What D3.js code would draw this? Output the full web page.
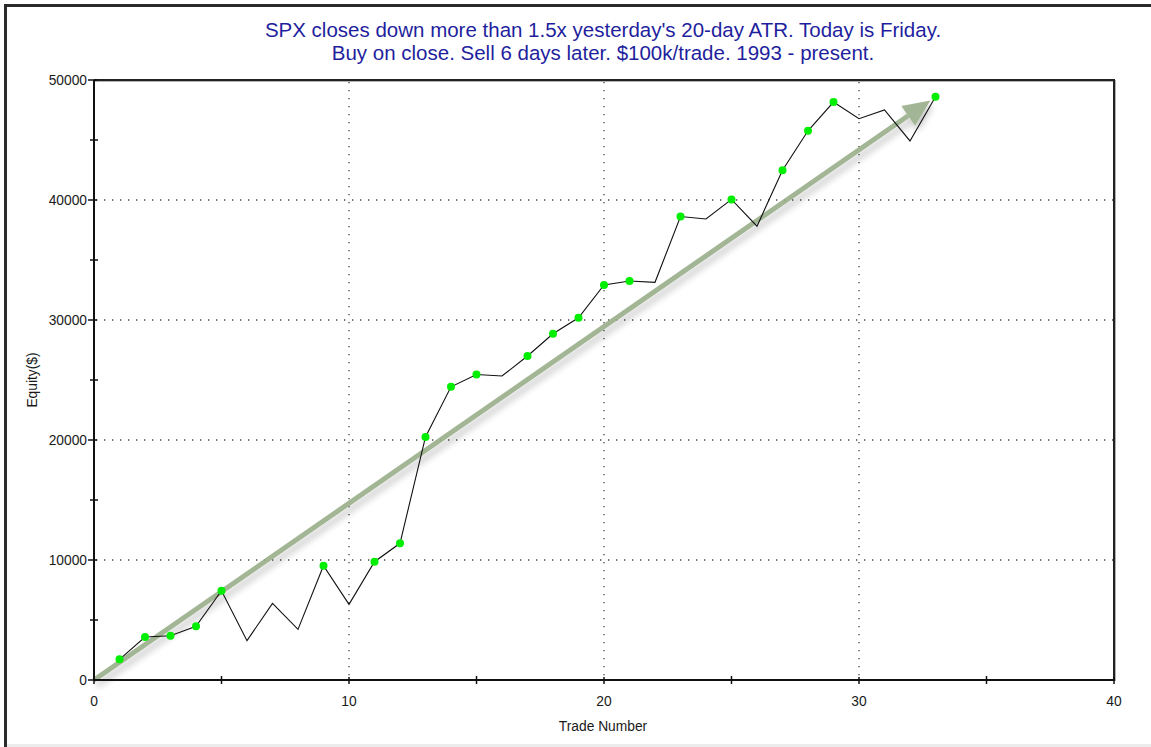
<!DOCTYPE html>
<html>
<head>
<meta charset="utf-8">
<script src="https://cdn.jsdelivr.net/npm/d3@7"></script>
<style>
  body { margin: 0; background: #fff; }
  svg { display: block; font-family: "Liberation Sans", Arial, sans-serif; }
</style>
</head>
<body>
<svg width="1151" height="747"></svg>
<script>
var width = 1151, height = 747

// equity after each trade
var trades = d3.range(1, 34)
var equity = [1720, 3580, 3690, 4470, 7440, 3280, 6390, 4220, 9520, 6300,
  9860, 11390, 20260, 24430, 25460, 25330, 27000, 28850, 30180, 32920,
  33250, 33140, 38620, 38420, 40050, 37820, 42480, 45770, 48160, 46770,
  47500, 44920, 48610]
var xTicks = [0, 10, 20, 30, 40]
var yTicks = [0, 10000, 20000, 30000, 40000, 50000]
var titleLines = ["SPX closes down more than 1.5x yesterday's 20-day ATR. Today is Friday.",
  "Buy on close. Sell 6 days later. $100k/trade. 1993 - present."]
// trend arrow, in data units
var arrowFrom = [0, 0], arrowTo = [32.8, 48300]

var pLeft = 94, pRight = 1114, pTop = 80, pBottom = 680

var x = d3.scaleLinear().domain([0, 40]).range([pLeft, pRight])
var y = d3.scaleLinear().domain([0, 50000]).range([pBottom, pTop])

var svg = d3.select('svg')

var defs = svg.append('defs')
var f = defs.append('filter').attr('id', 'shadow')
  .attr('x', '-10%').attr('y', '-10%').attr('width', '130%').attr('height', '130%')
f.append('feDropShadow').attr('dx', 3).attr('dy', 5).attr('stdDeviation', 3.5)
  .attr('flood-color', '#000').attr('flood-opacity', 0.25)
var pf = defs.append('filter').attr('id', 'pshadow')
pf.append('feDropShadow').attr('dx', 1).attr('dy', 1).attr('stdDeviation', 0.6)
  .attr('flood-color', '#000').attr('flood-opacity', 0.3)

// outer frame
svg.append('rect').attr('x', 4).attr('y', 4).attr('width', width).attr('height', 3).attr('fill', '#2b2b2b')
svg.append('rect').attr('x', 4).attr('y', 4).attr('width', 3).attr('height', height).attr('fill', '#2b2b2b')
svg.append('rect').attr('x', 7).attr('y', 744).attr('width', width).attr('height', 3).attr('fill', '#ececec')

// title
svg.selectAll('.title').data(titleLines).enter().append('text')
  .attr('class', 'title')
  .attr('x', 603).attr('y', function(d, i) { return 37 + i * 23 })
  .attr('text-anchor', 'middle')
  .attr('font-size', 20.5)
  .attr('fill', '#1f1f9e')
  .text(function(d) { return d })

// grid
svg.selectAll('.gy').data(yTicks.slice(1, -1)).enter().append('line')
  .attr('x1', pLeft + 2).attr('x2', pRight)
  .attr('y1', function(d) { return y(d) }).attr('y2', function(d) { return y(d) })
  .attr('stroke', '#444').attr('stroke-width', 1.3).attr('stroke-dasharray', '1.3,6.7')
svg.selectAll('.gx').data(xTicks.slice(1, -1)).enter().append('line')
  .attr('y1', pTop + 2).attr('y2', pBottom)
  .attr('x1', function(d) { return x(d) }).attr('x2', function(d) { return x(d) })
  .attr('stroke', '#444').attr('stroke-width', 1.3).attr('stroke-dasharray', '1.3,6.7')

// plot border (top/right)
svg.append('path')
  .attr('d', 'M' + pLeft + ',' + pTop + 'H' + pRight + 'V' + pBottom)
  .attr('fill', 'none').attr('stroke', '#222').attr('stroke-width', 2)
  .attr('filter', 'url(#pshadow)')

// trend arrow
var ax1 = x(arrowFrom[0]), ay1 = y(arrowFrom[1]), ax2 = x(arrowTo[0]), ay2 = y(arrowTo[1])
var ang = Math.atan2(ay2 - ay1, ax2 - ax1)
var headLen = 27, headW = 12
var bx = ax2 - headLen * Math.cos(ang), by = ay2 - headLen * Math.sin(ang)
var arrow = svg.append('g').attr('filter', 'url(#shadow)').attr('opacity', 0.9)
arrow.append('line')
  .attr('x1', ax1).attr('y1', ay1).attr('x2', bx).attr('y2', by)
  .attr('stroke', '#98ae89').attr('stroke-width', 5)
arrow.append('path')
  .attr('d', 'M' + ax2 + ',' + ay2 +
    'L' + (bx + headW * Math.sin(ang)) + ',' + (by - headW * Math.cos(ang)) +
    'L' + (bx - headW * Math.sin(ang)) + ',' + (by + headW * Math.cos(ang)) + 'Z')
  .attr('fill', '#98ae89')

// equity line
var line = d3.line()
  .x(function(d, i) { return x(trades[i]) })
  .y(function(d) { return y(d) })
svg.append('path').datum(equity)
  .attr('d', line)
  .attr('fill', 'none').attr('stroke', '#111').attr('stroke-width', 1.1)

// dots on new equity highs
var highs = []
var best = -Infinity
equity.forEach(function(v, i) {
  if (v > best) { highs.push({ t: trades[i], v: v }); best = v }
})
svg.selectAll('.dot').data(highs).enter().append('circle')
  .attr('class', 'dot')
  .attr('cx', function(d) { return x(d.t) })
  .attr('cy', function(d) { return y(d.v) })
  .attr('r', 4)
  .attr('fill', '#00ee00')

// axes
svg.append('line').attr('x1', pLeft).attr('x2', pLeft).attr('y1', pTop).attr('y2', pBottom + 1)
  .attr('stroke', '#111').attr('stroke-width', 2)
svg.append('line').attr('x1', pLeft - 1).attr('x2', pRight + 1).attr('y1', pBottom).attr('y2', pBottom)
  .attr('stroke', '#111').attr('stroke-width', 2)

// ticks
var yMinor = d3.range(5000, 50000, 10000)
svg.selectAll('.yt').data(yTicks).enter().append('line')
  .attr('x1', pLeft - 6).attr('x2', pLeft + 3)
  .attr('y1', function(d) { return y(d) }).attr('y2', function(d) { return y(d) })
  .attr('stroke', '#111').attr('stroke-width', 1.5)
svg.selectAll('.ym').data(yMinor).enter().append('line')
  .attr('x1', pLeft - 4).attr('x2', pLeft + 4)
  .attr('y1', function(d) { return y(d) }).attr('y2', function(d) { return y(d) })
  .attr('stroke', '#111').attr('stroke-width', 1.5)
var xMinor = d3.range(5, 40, 10)
svg.selectAll('.xt').data(xTicks).enter().append('line')
  .attr('y1', pBottom - 3).attr('y2', pBottom + 4)
  .attr('x1', function(d) { return x(d) }).attr('x2', function(d) { return x(d) })
  .attr('stroke', '#111').attr('stroke-width', 1.5)
svg.selectAll('.xm').data(xMinor).enter().append('line')
  .attr('y1', pBottom - 4).attr('y2', pBottom + 4)
  .attr('x1', function(d) { return x(d) }).attr('x2', function(d) { return x(d) })
  .attr('stroke', '#111').attr('stroke-width', 1.5)

// tick labels
svg.selectAll('.yl').data(yTicks).enter().append('text')
  .attr('x', pLeft - 7).attr('y', function(d) { return y(d) + 5 })
  .attr('text-anchor', 'end').attr('font-size', 13.8).attr('fill', '#1a1a1a')
  .text(function(d) { return d })
svg.selectAll('.xl').data(xTicks).enter().append('text')
  .attr('x', function(d) { return x(d) }).attr('y', pBottom + 26)
  .attr('text-anchor', 'middle').attr('font-size', 13.8).attr('fill', '#1a1a1a')
  .text(function(d) { return d })

// axis titles
svg.append('text').attr('x', 603).attr('y', 731)
  .attr('text-anchor', 'middle').attr('font-size', 13.8).attr('fill', '#1a1a1a')
  .text('Trade Number')
svg.append('text')
  .attr('transform', 'translate(37,' + ((pTop + pBottom) / 2) + ') rotate(-90)')
  .attr('text-anchor', 'middle').attr('font-size', 13.8).attr('fill', '#1a1a1a')
  .text('Equity($)')
</script>
</body>
</html>
